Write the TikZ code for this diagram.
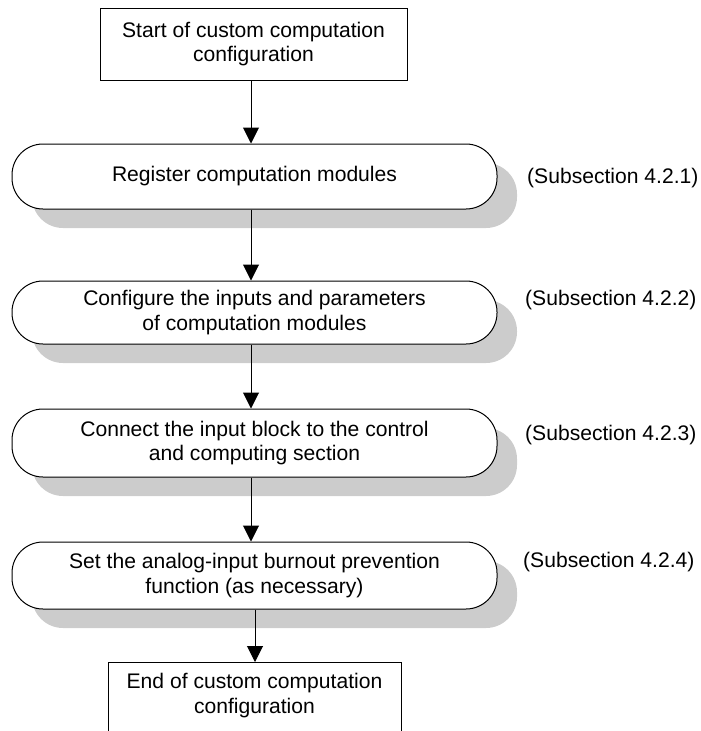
\documentclass[tikz,border=0pt]{standalone}
\usepackage{fontspec}
\setmainfont{Liberation Sans}
\usetikzlibrary{shadows,arrows.meta}
\begin{document}
\begin{tikzpicture}[x=1pt,y=-1pt,
  every node/.style={font=\fontsize{21.1}{24.5}\selectfont, align=center, inner sep=0pt},
  endbox/.style={draw, line width=1pt, fill=white, minimum width=307pt},
  stepbox/.style={draw, line width=1pt, fill=white, rounded corners=31pt,
     minimum width=485pt,
     drop shadow={shadow xshift=20pt, shadow yshift=-19pt, fill=gray!40, opacity=1, draw=none}},
  sublabel/.style={anchor=west},
  flow/.style={line width=1pt, -{Triangle[width=16pt,length=16pt]}}
]
\useasboundingbox (0,0) rectangle (701,731);

\node[endbox, minimum height=72pt] (start) at (253.5,44) {Start of custom computation\\configuration};

\node[stepbox, minimum height=65pt] (s1) at (254.5,176.5) {Register computation modules};
\node[stepbox, minimum height=63pt] (s2) at (254.5,312.5) {Configure the inputs and parameters\\of computation modules};
\node[stepbox, minimum height=68pt] (s3) at (254.5,443) {Connect the input block to the control\\and computing section};
\node[stepbox, minimum height=67pt] (s4) at (254.5,575.5) {Set the analog-input burnout prevention\\function (as necessary)};

\node[sublabel] (l1) at (527,178) {(Subsection 4.2.1)};
\node[sublabel] (l2) at (525,300) {(Subsection 4.2.2)};
\node[sublabel] (l3) at (525,435) {(Subsection 4.2.3)};
\node[sublabel] (l4) at (523,562) {(Subsection 4.2.4)};

\coordinate (etl) at (108,662);
\coordinate (etr) at (401,662);
\coordinate (ebl) at (108,733);
\coordinate (ebr) at (401,733);
\draw[line width=1pt] (ebl) -- (etl) -- (etr) -- (ebr);
\node (end) at (254.5,695.5) {End of custom computation\\configuration};
\coordinate (endtop) at (254.5,662);

\draw[flow] ([xshift=-2.5pt]start.south) -- ([xshift=-3.5pt]s1.north);
\draw[flow] ([xshift=-3.5pt]s1.south) -- ([xshift=-3.5pt]s2.north);
\draw[flow] ([xshift=-3.5pt]s2.south) -- ([xshift=-3.5pt]s3.north);
\draw[flow] ([xshift=-3.5pt]s3.south) -- ([xshift=-3.5pt]s4.north);
\draw[flow] ([xshift=0.5pt]s4.south) -- ([xshift=0.5pt]endtop);
\end{tikzpicture}
\end{document}
